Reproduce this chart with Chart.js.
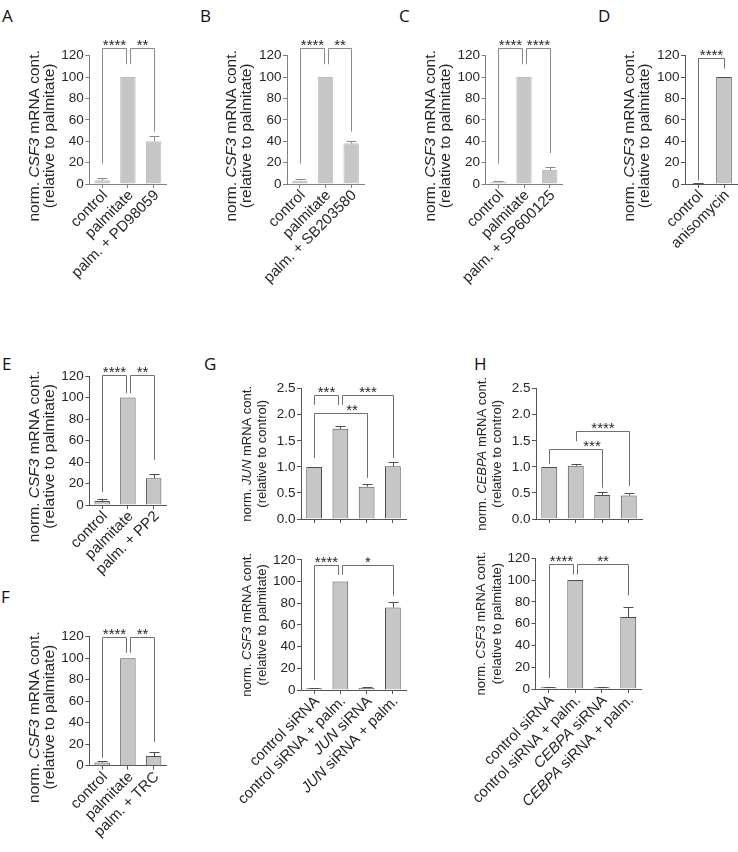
<!DOCTYPE html>
<html>
<head>
<meta charset="utf-8">
<script src="https://cdn.jsdelivr.net/npm/chart.js@4.4.0/dist/chart.umd.min.js"></script>
<style>
  html, body { margin: 0; padding: 0; background: #fff; }
  #fig { position: relative; width: 738px; height: 852px; overflow: hidden; }
  #fig canvas { position: absolute; }
  .lab { position: absolute; font-family: 'Open Sans', sans-serif; font-size: 17px; line-height: 1; color: #111; }
</style>
</head>
<body>
<div id="fig">
  <div class="lab" style="left:2px;top:7px">A</div>
  <div class="lab" style="left:200px;top:7px">B</div>
  <div class="lab" style="left:399px;top:7px">C</div>
  <div class="lab" style="left:598px;top:7px">D</div>
  <div class="lab" style="left:2px;top:355px">E</div>
  <div class="lab" style="left:1px;top:588px">F</div>
  <div class="lab" style="left:204px;top:355px">G</div>
  <div class="lab" style="left:474px;top:355px">H</div>
</div>
<script>
// --- données ---
// '_' entoure les noms de gènes en italique
const catsA = ['control', 'palmitate', 'palm. + PD98059'];
const meanA = [3.5, 100, 40];
const semA = [1.8, 0, 5];
const sigA = [[0, 1, 127, 19, 112, '****'], [1, 2, 127, 112, 49, '**']];

const catsB = ['control', 'palmitate', 'palm. + SB203580'];
const meanB = [3.1, 100, 38];
const semB = [1.6, 0, 2.5];
const sigB = [[0, 1, 127, 19, 112, '****'], [1, 2, 127, 112, 49, '**']];

const catsC = ['control', 'palmitate', 'palm. + SP600125'];
const meanC = [2.2, 100, 13];
const semC = [1, 0, 2.7];
const sigC = [[0, 1, 127, 19, 112, '****'], [1, 2, 127, 112, 29, '****']];

const catsD = ['control', 'anisomycin'];
const meanD = [0.6, 100];
const semD = [0.4, 0];
const sigD = [[0, 1, 117.5, 3.5, 108, '****']];

const catsE = ['control', 'palmitate', 'palm. + PP2'];
const meanE = [3.7, 100, 25];
const semE = [1.8, 0, 3.5];
const sigE = [[0, 1, 121, 12, 104, '****'], [1, 2, 121, 104, 42, '**']];

const catsF = ['control', 'palmitate', 'palm. + TRC'];
const meanF = [3, 100, 9];
const semF = [1.5, 0, 3.5];
const sigF = [[0, 1, 120, 7, 105, '****'], [1, 2, 120, 105, 22, '**']];

const catsG = ['control siRNA', 'control siRNA + palm.', '_JUN_ siRNA', '_JUN_ siRNA + palm.'];
const meanGjun = [1.0, 1.73, 0.62, 1.01];
const semGjun = [0, 0.06, 0.05, 0.08];
const sigGjun = [[0, 1, 2.38, 2.19, 2.19, '***'], [1, 3, 2.38, 2.19, 1.17, '***'], [0, 2, 2.04, 1.17, 0.79, '**']];
const meanGcsf = [1.5, 100, 2, 76];
const semGcsf = [0.4, 0, 0.4, 5];
const sigGcsf = [[0, 1, 115, 9, 106, '****'], [1, 3, 115, 106, 87, '*']];

const catsH = ['control siRNA', 'control siRNA + palm.', '_CEBPA_ siRNA', '_CEBPA_ siRNA + palm.'];
const meanHcebpa = [1.0, 1.02, 0.46, 0.45];
const semHcebpa = [0, 0.04, 0.05, 0.04];
const sigHcebpa = [[1, 3, 1.68, 1.49, 0.63, '****'], [0, 2, 1.35, 1.05, 0.6, '***']];
const meanHcsf = [1.5, 100, 1.5, 66];
const semHcsf = [0.4, 0, 0.4, 9];
const sigHcsf = [[0, 1, 115, 10, 105, '****'], [1, 3, 115, 105, 86, '**']];

const titleCSF3 = ['norm. _CSF3_ mRNA cont.', '(relative to palmitate)'];
const titleJUN = ['norm. _JUN_ mRNA cont.', '(relative to control)'];
const titleCEBPA = ['norm. _CEBPA_ mRNA cont.', '(relative to control)'];

// --- styles ---
const FONT = "'Liberation Sans', Arial, sans-serif";
const TXT = '#262626';
const FILL = '#c6c6c6';
const LIGHT = { bar: '#bdbdbd', axis: '#808080', sig: '#8a8a8a', err: '#8a8a8a', title: 15.5, titleX: [-55, -40], titleDy: 16 };
const DARK = { bar: '#4f4f4f', axis: '#555', sig: '#6f6f6f', err: '#4f4f4f', title: 15.5, titleX: [-55, -40], titleDy: 16 };
const DARK_SM = { bar: '#4f4f4f', axis: '#555', sig: '#6f6f6f', err: '#4f4f4f', title: 13, titleX: [-54, -38.5], titleDy: 0 };

Chart.defaults.font.family = FONT;
Chart.defaults.animation = false;

// texte en segments, '_' bascule l'italique
function drawSegs(ctx, str, size, align) {
    const parts = str.split('_').map((t, i) => ({ t: t, it: i % 2 === 1 })).filter(p => p.t.length);
    let total = 0;
    parts.forEach(p => {
        ctx.font = (p.it ? 'italic ' : '') + size + 'px ' + FONT;
        p.w = ctx.measureText(p.t).width;
        total += p.w;
    });
    let x = align === 'right' ? -total : -total / 2;
    ctx.textAlign = 'left';
    parts.forEach(p => {
        ctx.font = (p.it ? 'italic ' : '') + size + 'px ' + FONT;
        ctx.fillText(p.t, x, 0);
        x += p.w;
    });
}

function drawExtras(chart, p) {
    const ctx = chart.ctx, xs = chart.scales.x, ys = chart.scales.y, area = chart.chartArea;
    const st = p.st;
    ctx.save();

    // barres d'erreur (vers le haut seulement)
    ctx.strokeStyle = st.err;
    ctx.lineWidth = 1;
    chart.getDatasetMeta(0).data.forEach((bar, i) => {
        if (!p.sem[i]) return;
        const xc = Math.round(bar.x) + 0.5;
        const yt = Math.round(ys.getPixelForValue(p.mean[i] + p.sem[i])) + 0.5;
        const hw = Math.round(bar.width * 0.32);
        ctx.beginPath();
        ctx.moveTo(xc, bar.y);
        ctx.lineTo(xc, yt);
        ctx.moveTo(xc - hw, yt);
        ctx.lineTo(xc + hw, yt);
        ctx.stroke();
    });

    // crochets de significativité
    p.sig.forEach((s, k) => {
        const [a, b, top, endA, endB, label] = s;
        const shA = p.sig.some(o => o[1] === a) ? 2 : 0;
        const shB = p.sig.some(o => o[0] === b) ? -2 : 0;
        const xa = Math.round(xs.getPixelForValue(a)) + shA + 0.5;
        const xb = Math.round(xs.getPixelForValue(b)) + shB + 0.5;
        const yt = Math.round(ys.getPixelForValue(top)) + 0.5;
        ctx.strokeStyle = st.sig;
        ctx.beginPath();
        ctx.moveTo(xa, ys.getPixelForValue(endA));
        ctx.lineTo(xa, yt);
        ctx.lineTo(xb, yt);
        ctx.lineTo(xb, ys.getPixelForValue(endB));
        ctx.stroke();
        ctx.fillStyle = TXT;
        ctx.font = '15px ' + FONT;
        ctx.textAlign = 'center';
        ctx.textBaseline = 'alphabetic';
        const dx = p.labelDx ? p.labelDx[k] : 0;
        ctx.fillText(label, (xa + xb) / 2 + dx, yt + 1.5);
    });

    // titre de l'axe y
    ctx.fillStyle = TXT;
    ctx.textBaseline = 'middle';
    const cy = (area.top + area.bottom) / 2 + st.titleDy;
    p.title.forEach((line, j) => {
        ctx.save();
        ctx.translate(area.left + st.titleX[j], cy);
        ctx.rotate(-Math.PI / 2);
        drawSegs(ctx, line, st.title, 'center');
        ctx.restore();
    });

    // étiquettes x inclinées
    if (p.showX) {
        p.cats.forEach((c, i) => {
            ctx.save();
            ctx.translate(xs.getPixelForValue(i) + 3, area.bottom + 9);
            ctx.rotate(-Math.PI / 4);
            drawSegs(ctx, c, 15, 'right');
            ctx.restore();
        });
    }
    ctx.restore();
}

function makePanel(p) {
    const fig = document.getElementById('fig');
    const cv = document.createElement('canvas');
    cv.width = p.box[2];
    cv.height = p.box[3];
    cv.style.left = p.box[0] + 'px';
    cv.style.top = p.box[1] + 'px';
    cv.style.width = p.box[2] + 'px';
    cv.style.height = p.box[3] + 'px';
    fig.appendChild(cv);

    const YW = 40, XH = 6;
    const [x0, y0, x1, y1] = p.area;
    const st = p.st;
    new Chart(cv, {
        type: 'bar',
        data: {
            labels: p.cats,
            datasets: [{
                data: p.mean,
                backgroundColor: FILL,
                borderColor: st.bar,
                borderWidth: 1,
                barPercentage: 0.6,
                categoryPercentage: 1,
            }],
        },
        options: {
            responsive: false,
            animation: false,
            events: [],
            layout: {
                padding: {
                    left: x0 - p.box[0] - YW,
                    top: y0 - p.box[1],
                    right: p.box[0] + p.box[2] - x1,
                    bottom: p.box[1] + p.box[3] - y1 - XH,
                },
            },
            plugins: { legend: { display: false }, tooltip: { enabled: false } },
            scales: {
                x: {
                    offset: true,
                    grid: { display: true, drawOnChartArea: false, drawTicks: true, tickLength: 4, offset: false, color: st.axis },
                    border: { display: true, color: st.axis, width: 1 },
                    ticks: { display: false },
                    afterFit(s) { s.height = XH; },
                },
                y: {
                    min: 0,
                    max: p.yMax,
                    ticks: {
                        stepSize: p.step,
                        color: TXT,
                        font: { size: 13.5 },
                        padding: 1.5,
                        callback: v => p.step < 1 ? v.toFixed(1) : v,
                    },
                    grid: { drawOnChartArea: false, tickLength: 4, color: st.axis },
                    border: { display: true, color: st.axis, width: 1 },
                    afterFit(s) { s.width = YW; },
                },
            },
        },
        plugins: [{ id: 'extras', afterDraw(chart) { drawExtras(chart, p); } }],
    });
}

// box = [gauche, haut, largeur, hauteur] du canvas, area = zone du graphe (page)
makePanel({ box: [0, 25, 190, 265], area: [89.3, 55.7, 166.5, 184], cats: catsA, mean: meanA, sem: semA, sig: sigA, yMax: 120, step: 20, title: titleCSF3, st: LIGHT, showX: true });
makePanel({ box: [190, 25, 190, 265], area: [287, 55.7, 364, 184], cats: catsB, mean: meanB, sem: semB, sig: sigB, yMax: 120, step: 20, title: titleCSF3, st: LIGHT, showX: true });
makePanel({ box: [385, 25, 195, 265], area: [485.5, 55.7, 562.5, 184], cats: catsC, mean: meanC, sem: semC, sig: sigC, yMax: 120, step: 20, title: titleCSF3, st: LIGHT, showX: true });
makePanel({ box: [585, 25, 153, 265], area: [685, 55.7, 737, 184], cats: catsD, mean: meanD, sem: semD, sig: sigD, yMax: 120, step: 20, title: titleCSF3, st: DARK, showX: true });
makePanel({ box: [0, 352, 190, 250], area: [89.3, 376, 166.5, 505], cats: catsE, mean: meanE, sem: semE, sig: sigE, yMax: 120, step: 20, title: titleCSF3, st: DARK, showX: true });
makePanel({ box: [0, 612, 190, 240], area: [89.3, 636.7, 166.5, 765.7], cats: catsF, mean: meanF, sem: semF, sig: sigF, yMax: 120, step: 20, title: titleCSF3, st: DARK, showX: true });
makePanel({ box: [222, 370, 190, 160], area: [301, 388.7, 406, 519], cats: catsG, mean: meanGjun, sem: semGjun, sig: sigGjun, yMax: 2.5, step: 0.5, title: titleJUN, st: DARK_SM, showX: false, labelDx: [0, 0, 11] });
makePanel({ box: [222, 540, 190, 312], area: [301, 559.8, 406, 690], cats: catsG, mean: meanGcsf, sem: semGcsf, sig: sigGcsf, yMax: 120, step: 20, title: titleCSF3, st: DARK_SM, showX: true });
makePanel({ box: [458, 370, 200, 160], area: [536, 388.7, 642, 519], cats: catsH, mean: meanHcebpa, sem: semHcebpa, sig: sigHcebpa, yMax: 2.5, step: 0.5, title: titleCEBPA, st: DARK_SM, showX: false, labelDx: [0, 16] });
makePanel({ box: [458, 540, 200, 312], area: [535.5, 558.2, 641.5, 689], cats: catsH, mean: meanHcsf, sem: semHcsf, sig: sigHcsf, yMax: 120, step: 20, title: titleCSF3, st: DARK_SM, showX: true });
</script>
</body>
</html>
